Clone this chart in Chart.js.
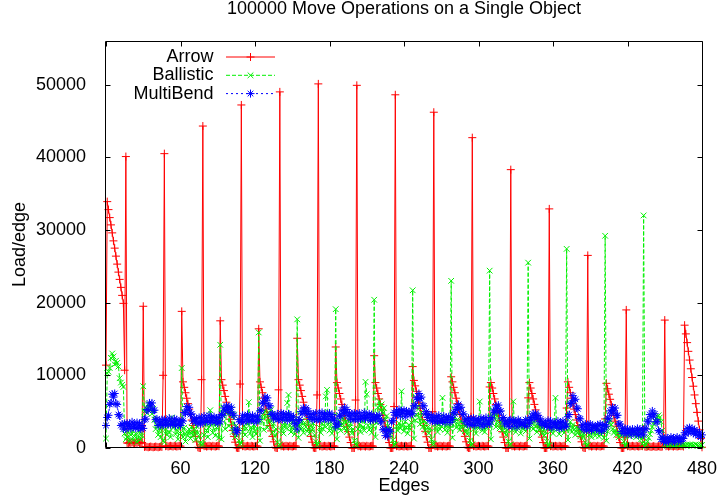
<!DOCTYPE html>
<html>
<head>
<meta charset="utf-8">
<title>100000 Move Operations on a Single Object</title>
<script src="https://cdn.jsdelivr.net/npm/chart.js@4.4.1/dist/chart.umd.min.js"></script>
<style>
  html, body { margin: 0; padding: 0; background: #fff; }
</style>
</head>
<body>
<canvas id="loadChart" width="719" height="498"></canvas>
<script>
// edge index 0..480
const edges = Array.from({ length: 481 }, (_, i) => i);

const xTicks = [60, 120, 180, 240, 300, 360, 420, 480];
const yTicks = [0, 10000, 20000, 30000, 40000, 50000];

const arrow = [
  11400, 33900, 32800, 31700, 30700, 29600, 28500, 27500, 26400, 25300, 24200, 23200, 22100, 21000, 19900, 10700,
  40100, 700, 650, 750, 700, 800, 700, 650, 750, 700, 800, 700, 650, 750, 19500, 150, 200, 150, 100, 150, 200, 150, 100, 150, 200, 150, 100, 150, 200, 150, 10000,
  40500, 250, 300, 200, 250, 300, 250, 200, 300, 250, 200, 250, 300, 250, 18800, 9100, 8350, 7600, 6850, 6100, 5350, 4600, 3850, 3100, 2350, 1600, 850, 100, 0, 0, 9400,
  44300, 250, 300, 200, 250, 300, 250, 200, 300, 250, 200, 250, 300, 250, 17500, 9400, 8650, 7900, 7100, 6300, 5550, 4750, 3950, 3150, 2400, 1600, 800, 50, 0, 0, 8800,
  47200, 250, 300, 200, 250, 300, 250, 200, 300, 250, 200, 250, 300, 250, 16400, 9100, 8350, 7600, 6850, 6100, 5350, 4600, 3850, 3100, 2350, 1600, 850, 100, 0, 0, 8000,
  49000, 250, 300, 200, 250, 300, 250, 200, 300, 250, 200, 250, 300, 250, 15100, 9400, 8650, 7900, 7100, 6300, 5550, 4750, 3950, 3150, 2400, 1600, 800, 50, 0, 0, 7300,
  50100, 250, 300, 200, 250, 300, 250, 200, 300, 250, 200, 250, 300, 250, 13900, 9000, 8250, 7500, 6750, 6000, 5250, 4500, 3750, 3000, 2250, 1500, 750, 0, 0, 0, 6600,
  49900, 250, 300, 200, 250, 300, 250, 200, 300, 250, 200, 250, 300, 250, 12700, 9000, 8250, 7500, 6750, 6000, 5250, 4500, 3750, 3000, 2250, 1500, 750, 0, 0, 0, 5700,
  48600, 250, 300, 200, 250, 300, 250, 200, 300, 250, 200, 250, 300, 250, 11200, 9300, 8550, 7800, 7000, 6200, 5450, 4650, 3900, 3100, 2300, 1550, 800, 0, 0, 0, 5000,
  46200, 250, 300, 200, 250, 300, 250, 200, 300, 250, 200, 250, 300, 250, 9800, 9100, 8350, 7600, 6850, 6100, 5350, 4600, 3850, 3100, 2350, 1600, 850, 100, 0, 0, 4300,
  42700, 250, 300, 200, 250, 300, 250, 200, 300, 250, 200, 250, 300, 250, 8400, 9000, 8250, 7500, 6750, 6000, 5250, 4500, 3750, 3000, 2250, 1500, 750, 0, 0, 0, 3600,
  38300, 250, 300, 200, 250, 300, 250, 200, 300, 250, 200, 250, 300, 250, 6900, 9000, 8250, 7500, 6750, 6000, 5250, 4500, 3750, 3000, 2250, 1500, 750, 0, 0, 0, 2900,
  32900, 250, 300, 200, 250, 300, 250, 200, 300, 250, 200, 250, 300, 250, 5500, 9100, 8350, 7600, 6850, 6100, 5350, 4600, 3850, 3100, 2350, 1600, 850, 100, 0, 0, 2200,
  26500, 250, 300, 200, 250, 300, 250, 200, 300, 250, 200, 250, 300, 250, 4000, 8900, 8150, 7400, 6700, 5950, 5200, 4450, 3700, 3000, 2250, 1500, 750, 0, 0, 0, 1500,
  19000, 250, 300, 200, 250, 300, 250, 200, 300, 250, 200, 250, 300, 250, 2600, 200, 150, 200, 250, 200, 150, 200, 250, 200, 150, 200, 250, 200, 150, 200, 800,
  17600, 250, 300, 200, 250, 300, 250, 200, 300, 250, 200, 250, 300, 250, 300, 200, 16900, 15700, 14500, 13300, 12100, 10900, 9700, 8500, 7300, 6100, 4900, 3700, 2500, 1300, 100
];

const ballistic = [
  1300, 10300, 10500, 11000, 12400, 13000, 12600, 11500, 12000, 11700, 11200, 9600, 9000, 8700, 8400, 2000,
  1200, 1500, 2200, 900, 1800, 2400, 1100, 1600, 2000, 800, 1400, 2300, 1200, 1700, 8500, 5000, 5600, 4800, 6100, 5300, 5900, 4700, 5400, 3900, 2600, 3200, 1800, 2700, 1500, 2900, 1000,
  800, 2600, 1800, 3400, 2200, 1500, 4200, 2800, 3600, 1900, 2500, 1200, 3100, 2000, 11000, 1500, 2800, 900, 2200, 1700, 2600, 1300, 2900, 1800, 2400, 1100, 3000, 2100, 1600, 700, 400,
  600, 1800, 3200, 2400, 1500, 2900, 5200, 3600, 2100, 3400, 1700, 2800, 3800, 1400, 14200, 1200, 4800, 5400, 2600, 5000, 5600, 3000, 4900, 5300, 2200, 4600, 1500, 3100, 2400, 1000, 500,
  700, 2200, 3000, 1800, 2700, 3300, 6300, 2000, 2800, 1500, 3200, 2400, 1900, 2600, 15900, 1000, 3800, 4600, 2500, 5100, 4200, 2800, 4900, 3600, 5300, 2100, 3400, 1600, 2600, 800, 300,
  500, 2400, 3100, 2000, 3500, 2700, 6200, 7300, 3000, 2200, 3600, 2600, 1900, 3300, 17700, 1400, 3200, 2600, 3800, 2100, 3500, 2900, 2300, 3700, 2000, 3100, 2500, 3400, 1800, 900, 400,
  600, 2800, 2100, 3400, 2600, 3000, 7100, 8000, 3200, 2400, 3600, 2000, 2900, 2500, 19100, 1200, 2900, 3800, 2400, 3300, 4100, 2700, 3600, 2200, 3900, 2800, 3400, 2000, 2600, 1000, 500,
  400, 2600, 3300, 2200, 3700, 2900, 2400, 9100, 7400, 3100, 2500, 3800, 2100, 3000, 20400, 1500, 3500, 5600, 6400, 5200, 6000, 4800, 5500, 3900, 4400, 3000, 2600, 1800, 2500, 1100, 400,
  500, 3000, 2400, 3400, 2700, 7800, 3100, 2300, 3600, 2800, 2000, 3200, 2600, 3500, 21700, 1300, 3800, 4600, 5800, 4200, 3300, 4900, 2900, 3700, 2400, 3500, 2800, 2000, 2700, 1200, 500,
  600, 2800, 3400, 2200, 3700, 2600, 3000, 6900, 3300, 2500, 3900, 2100, 3200, 2700, 23000, 1400, 3600, 4300, 2800, 3900, 3200, 2500, 3700, 2900, 3400, 2300, 3100, 1900, 2600, 1000, 400,
  500, 2600, 3200, 2000, 3500, 2700, 6400, 3100, 2400, 3700, 2200, 3000, 2800, 3300, 24400, 1200, 3400, 4200, 5000, 2900, 4400, 3500, 2700, 3800, 2400, 3300, 2600, 1800, 2500, 900, 400,
  500, 2500, 6400, 3000, 2200, 3600, 2700, 3100, 2000, 3400, 2600, 2900, 2300, 3200, 25500, 1300, 3200, 3900, 2600, 3600, 2900, 2200, 3400, 2500, 3100, 2000, 2800, 1700, 2300, 900, 300,
  400, 2300, 2900, 2000, 3300, 6900, 2600, 3100, 1900, 2800, 2400, 3200, 2100, 2700, 27400, 1100, 2700, 3600, 2200, 3200, 2500, 1800, 2900, 2100, 2600, 1600, 2400, 1500, 2000, 800, 300,
  400, 1800, 2500, 1500, 2200, 2800, 1700, 2400, 2000, 1600, 2300, 1900, 2600, 1400, 29200, 1000, 2300, 3400, 3800, 3200, 2600, 2100, 2400, 1800, 2200, 1500, 2000, 1700, 1900, 900, 300,
  400, 1900, 2300, 1600, 2100, 2400, 1800, 2200, 1500, 2000, 1700, 2300, 1200, 600, 32000, 200, 500, 900, 1400, 1900, 2400, 2900, 3300, 3700, 4000, 4300, 4500, 4200, 3600, 2400, 1200,
  500, 400, 300, 450, 350, 500, 400, 300, 450, 350, 400, 500, 300, 400, 350, 450, 400, 300, 500, 350, 400, 450, 300, 400, 350, 500, 400, 300, 450, 350, 400
];

const multiBend = [
  3100, 4200, 4500, 6000, 6200, 7400, 7000, 7500, 6100, 6000, 4600, 4400, 3100, 3300, 2600, 3400,
  2600, 3400, 3000, 3300, 2700, 3600, 2900, 3200, 2700, 3500, 2800, 3400, 2600, 3100, 2700, 3900, 4000, 5300, 5200, 6200, 5800, 6200, 5200, 5200, 3900, 4000, 3100, 3600, 3200, 3900, 3100,
  3900, 3300, 3800, 3200, 4100, 3200, 3700, 3300, 4000, 3100, 3900, 3200, 3600, 3100, 3800, 3700, 4900, 4800, 5700, 5200, 5600, 4600, 4700, 3700, 4100, 3600, 4000, 3400, 4200, 3300, 4100,
  3500, 4400, 3600, 4000, 3700, 4500, 3500, 4200, 3800, 4300, 3600, 4100, 3400, 4200, 3600, 4600, 4500, 5500, 5100, 5800, 5300, 5700, 4900, 5600, 4700, 4500, 2600, 2100, 2400, 3900, 3600,
  3700, 4500, 3600, 4400, 3900, 4600, 3700, 4300, 3800, 4500, 3700, 4300, 3600, 4400, 3900, 5100, 5200, 6300, 6100, 7000, 6500, 6900, 5800, 5800, 4600, 4700, 4000, 4400, 4100, 4700, 3900,
  4000, 4800, 3900, 4700, 4200, 4600, 3800, 4700, 4100, 4500, 3900, 4300, 3300, 3400, 2600, 3800, 3900, 5000, 4700, 5500, 5000, 5500, 4700, 5100, 4200, 4600, 3900, 4700, 4000, 4800, 3900,
  4000, 4800, 3900, 4900, 4100, 4600, 4000, 4700, 3900, 4800, 4300, 4600, 3800, 4000, 2900, 3300, 3300, 4500, 4300, 5200, 4800, 5600, 4900, 5300, 4400, 4800, 4000, 4700, 3900, 4800, 4000,
  4700, 3900, 4800, 4000, 4400, 4100, 4900, 4000, 4500, 4200, 4700, 3800, 4600, 3900, 4300, 4000, 4400, 4100, 4500, 3600, 3700, 2500, 2600, 1700, 2400, 1600, 2500, 2300, 3600, 3800, 4900,
  4500, 5100, 4600, 5300, 4400, 5100, 4800, 5200, 4300, 5100, 4700, 5000, 4600, 5100, 4700, 5800, 5800, 6900, 6700, 7500, 6800, 7000, 5800, 5800, 4700, 5000, 4200, 4600, 3800, 4500, 3700,
  4200, 3600, 4300, 3700, 4500, 3600, 4000, 3700, 4400, 3500, 4200, 3900, 4300, 3500, 4200, 3900, 4900, 4700, 5600, 5300, 6000, 5400, 5600, 4600, 4700, 3700, 4000, 3300, 4100, 3200, 4000,
  3300, 4100, 3100, 4000, 3600, 3800, 3300, 4100, 3000, 4000, 3200, 4200, 3300, 3700, 3300, 4200, 4000, 5100, 4900, 5800, 5400, 5900, 5000, 5100, 4000, 4200, 3300, 3700, 3400, 3000, 3800,
  3900, 3000, 3800, 3500, 3700, 2900, 3900, 3400, 3600, 3200, 3400, 3100, 3900, 3000, 3800, 3400, 4200, 3900, 4700, 4200, 4800, 4100, 4500, 3600, 4000, 3200, 3600, 3100, 3400, 3000, 3800,
  2900, 3700, 2800, 3500, 3200, 3400, 2900, 3700, 2700, 3500, 2800, 3700, 2900, 3300, 3000, 4300, 4600, 6100, 6200, 7200, 6500, 6700, 5500, 5400, 4100, 4000, 2900, 3200, 2500, 3300, 2500,
  3200, 2500, 3300, 2400, 3100, 2800, 3000, 2600, 3200, 2400, 3300, 2300, 3100, 2500, 3200, 3000, 4100, 4000, 5100, 4800, 5600, 5100, 5500, 4500, 4500, 3300, 3300, 2300, 2700, 2000, 2700,
  2000, 2600, 2100, 2500, 1800, 2600, 2200, 2400, 1900, 2700, 1800, 2600, 1900, 2500, 1800, 2700, 2600, 3700, 3600, 4600, 4300, 5100, 4400, 4700, 3600, 3600, 2400, 2200, 1200, 1500, 900,
  1300, 800, 1400, 900, 1200, 1500, 900, 1400, 800, 1300, 1500, 1000, 1300, 900, 1400, 1300, 2100, 1900, 2700, 2200, 2800, 2300, 2700, 2000, 2500, 1900, 2300, 1700, 2100, 1500, 1800
];

const FONT = "'Liberation Sans', Arial, Helvetica, sans-serif";
Chart.defaults.font.family = FONT;
Chart.defaults.font.size = 18;
Chart.defaults.color = '#000';

function points(values) {
  return values.map((v, i) => ({ x: edges[i], y: v }));
}

// gnuplot style border with inward tics on all four sides
const borderPlugin = {
  id: 'gnuBorder',
  afterDatasetsDraw(chart) {
    const { ctx, chartArea: a, scales: { x, y } } = chart;
    ctx.save();
    ctx.strokeStyle = '#000';
    ctx.lineWidth = 1;
    ctx.setLineDash([]);
    ctx.beginPath();
    const L = Math.round(a.left) - 0.5, R = Math.round(a.right) + 0.5;
    const T = Math.round(a.top) + 0.5, B = Math.round(a.bottom) - 0.5;
    ctx.rect(L, T, R - L, B - T);
    x.ticks.forEach(t => {
      const px = Math.round(x.getPixelForValue(t.value)) + 0.5;
      ctx.moveTo(px, B); ctx.lineTo(px, B - 5);
      ctx.moveTo(px, T); ctx.lineTo(px, T + 5);
    });
    y.ticks.forEach(t => {
      const py = Math.round(y.getPixelForValue(t.value)) + 0.5;
      ctx.moveTo(L, py); ctx.lineTo(L + 5, py);
      ctx.moveTo(R, py); ctx.lineTo(R - 5, py);
    });
    ctx.stroke();
    ctx.restore();
  }
};

// key in the top left, text first then the line sample
const keyPlugin = {
  id: 'gnuKey',
  afterDatasetsDraw(chart) {
    const ctx = chart.ctx;
    ctx.save();
    chart.data.datasets.forEach((ds, i) => {
      const yy = 57 + i * 18.3;
      ctx.font = '18px ' + FONT;
      ctx.fillStyle = '#000';
      ctx.textAlign = 'right';
      ctx.textBaseline = 'middle';
      ctx.fillText(ds.label, 213.5, yy);
      ctx.strokeStyle = ds.borderColor;
      ctx.fillStyle = ds.borderColor;
      ctx.lineWidth = 1;
      ctx.setLineDash(ds.borderDash || []);
      ctx.beginPath();
      ctx.moveTo(226, yy);
      ctx.lineTo(275, yy);
      ctx.stroke();
      ctx.setLineDash([]);
      Chart.helpers.drawPoint(ctx, { pointStyle: ds.pointStyle, radius: 4, borderWidth: 1, rotation: 0 }, 250.5, yy);
    });
    ctx.restore();
  }
};

new Chart(document.getElementById('loadChart').getContext('2d'), {
  type: 'line',
  data: {
    datasets: [
      {
        label: 'Arrow',
        data: points(arrow),
        borderColor: '#ff0000',
        backgroundColor: '#ff0000',
        borderWidth: 1,
        pointStyle: 'cross',
        pointRadius: 4,
        pointBorderWidth: 1,
        order: 2
      },
      {
        label: 'Ballistic',
        data: points(ballistic),
        borderColor: '#00f000',
        backgroundColor: '#00f000',
        borderWidth: 1,
        borderDash: [4, 2],
        pointStyle: 'crossRot',
        pointRadius: 4,
        pointBorderWidth: 1,
        order: 1
      },
      {
        label: 'MultiBend',
        data: points(multiBend),
        borderColor: '#0000ff',
        backgroundColor: '#0000ff',
        borderWidth: 1,
        borderDash: [2, 3],
        pointStyle: 'star',
        pointRadius: 4,
        pointBorderWidth: 1,
        order: 0
      }
    ]
  },
  options: {
    responsive: false,
    animation: false,
    events: [],
    devicePixelRatio: 1,
    layout: { padding: { left: 0, right: 17, top: 0, bottom: 0 } },
    elements: { line: { tension: 0 } },
    clip: { left: 5, right: 5, top: 0, bottom: 5 },
    plugins: {
      legend: { display: false },
      tooltip: { enabled: false },
      title: {
        display: true,
        text: '100000 Move Operations on a Single Object',
        fullSize: false,
        font: { size: 18, weight: 'normal', lineHeight: 1 },
        padding: { top: 0.5, bottom: 22.5 }
      }
    },
    scales: {
      x: {
        type: 'linear',
        min: 0,
        max: 480,
        afterFit: s => { s.height = 50; s.paddingLeft = 0; s.paddingRight = 0; },
        afterBuildTicks: s => { s.ticks = [0].concat(xTicks).map(v => ({ value: v })); },
        ticks: {
          autoSkip: false,
          maxRotation: 0,
          padding: 2,
          callback: v => (v === 0 ? '' : String(v))
        },
        grid: { display: false },
        border: { display: false },
        title: { display: true, text: 'Edges', padding: { top: 0, bottom: 1 } }
      },
      y: {
        min: 0,
        max: 56000,
        afterFit: s => { s.width = 106; },
        afterBuildTicks: s => { s.ticks = yTicks.map(v => ({ value: v })); },
        ticks: {
          padding: 12,
          callback: v => String(v)
        },
        grid: { display: false },
        border: { display: false },
        title: { display: true, text: 'Load/edge', padding: { top: 9, bottom: 0 } }
      }
    }
  },
  plugins: [borderPlugin, keyPlugin]
});
</script>
</body>
</html>
